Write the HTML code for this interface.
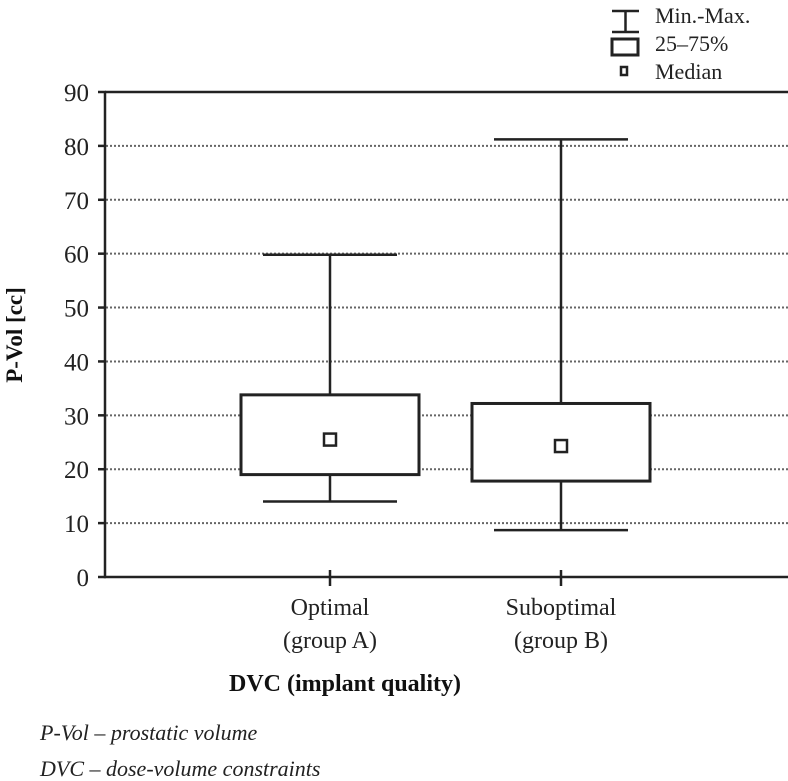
<!DOCTYPE html>
<html><head><meta charset="utf-8"><style>
body{margin:0;background:#fff;}
svg{display:block;font-family:"Liberation Serif",serif;}
</style></head><body>
<svg width="788" height="781">
<g id="grid"></g>
<g id="axes"></g>
<g id="boxes"></g>
<g stroke="#222" fill="none" stroke-width="2.5">
 <path d="M612 11 H639 M625.5 11 V32 M612 32 H639"/>
 <rect x="612" y="39" width="26" height="16" stroke-width="3"/>
 <rect x="621" y="67" width="6" height="8"/>
</g>
<g font-size="22" fill="#222">
 <text x="655" y="23">Min.-Max.</text>
 <text x="655" y="51">25–75%</text>
 <text x="655" y="79">Median</text>
</g>
<text transform="translate(22,335) rotate(-90)" text-anchor="middle" font-size="23" font-weight="bold" fill="#111">P-Vol [cc]</text>
<text x="345" y="691" text-anchor="middle" font-size="24" font-weight="bold" fill="#111">DVC (implant quality)</text>
<g font-size="22" font-style="italic" fill="#222">
 <text x="40" y="740">P-Vol – prostatic volume</text>
 <text x="40" y="776">DVC – dose-volume constraints</text>
</g>
</svg>
<script>
const categories=[["Optimal","(group A)"],["Suboptimal","(group B)"]];
const mins=[14,8.7];
const q1s=[19,17.8];
const medians=[25.5,24.3];
const q3s=[33.8,32.2];
const maxs=[59.8,81.2];
const yTicks=[0,10,20,30,40,50,60,70,80,90];
const NS="http://www.w3.org/2000/svg";
const y=v=>577-(v/90)*485;
const xc=i=>330+i*231;
function mk(tag,attrs,parent,text){const e=document.createElementNS(NS,tag);for(const k in attrs)e.setAttribute(k,attrs[k]);if(text!==undefined)e.textContent=text;parent.appendChild(e);return e;}
const grid=document.getElementById('grid'),axes=document.getElementById('axes'),boxes=document.getElementById('boxes');
yTicks.forEach(t=>{
 if(t>0&&t<90){const g=mk('line',{x1:106,x2:788,y1:y(t),y2:y(t),stroke:'#666','stroke-width':2,'stroke-dasharray':'2 2'},grid);
 
 }
 const tk=mk('line',{x1:98,x2:106,y1:y(t),y2:y(t),stroke:'#222','stroke-width':2.5},axes);
 
 
 const lb=mk('text',{x:89,y:y(t)+9,'text-anchor':'end','font-size':25,fill:'#222'},axes,String(t));
 
 
});
const fr=mk('path',{d:`M105 ${y(90)} H788 M105 ${y(90)} V${y(0)} H788`,stroke:'#222','stroke-width':2.5,fill:'none'},axes);


categories.forEach((c,i)=>{
 const x=xc(i);
 const g=mk('g',{stroke:'#222','stroke-width':2.5,fill:'none'},boxes);
 
 
 mk('path',{d:`M${x} ${y(maxs[i])} V${y(mins[i])} M${x-67} ${y(maxs[i])} H${x+67} M${x-67} ${y(mins[i])} H${x+67}`},g);
 mk('rect',{x:x-89,y:y(q3s[i]),width:178,height:y(q1s[i])-y(q3s[i]),fill:'#fff','stroke-width':3},g);
 mk('rect',{x:x-6,y:y(medians[i])-6,width:12,height:12,fill:'#fff'},g);
 const tk=mk('line',{x1:x,x2:x,y1:y(0)-7,y2:y(0)+9,stroke:'#222','stroke-width':2.5},axes);
 
 
 c.forEach((line,j)=>{const t=mk('text',{x:x,y:615+j*33,'text-anchor':'middle','font-size':24,fill:'#222'},axes,line);
 
 });
});
</script>
</body></html>
